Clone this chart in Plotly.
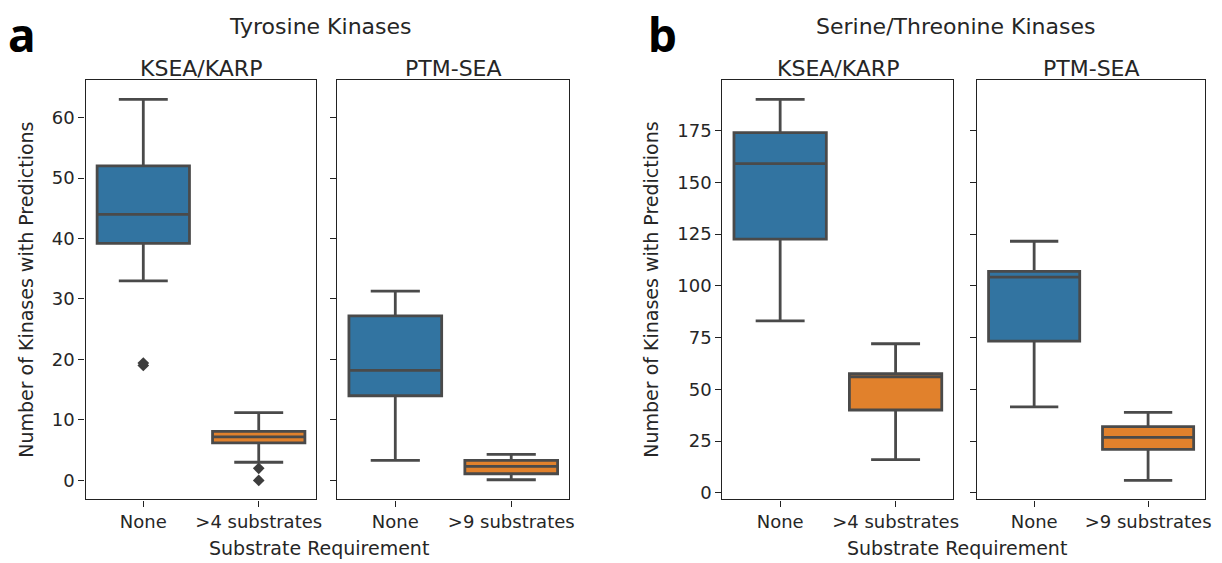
import plotly.graph_objects as go

W, H = 1222, 563

# ---------------- data ----------------
cats_tyr_ksea = ["None", ">4 substrates"]
cats_tyr_ptm = ["None", ">9 substrates"]
cats_st_ksea = ["None", ">4 substrates"]
cats_st_ptm = ["None", ">9 substrates"]

# box stats: lower whisker, q1, median, q3, upper whisker
tyr_ksea_low = [33, 3]
tyr_ksea_q1 = [39.2, 6.2]
tyr_ksea_med = [44, 7.2]
tyr_ksea_q3 = [52, 8.1]
tyr_ksea_high = [63, 11.2]
tyr_ksea_out_x = ["None", "None", ">4 substrates", ">4 substrates"]
tyr_ksea_out_y = [19, 19.4, 2, 0]

tyr_ptm_low = [3.3, 0.1]
tyr_ptm_q1 = [14, 1.1]
tyr_ptm_med = [18.2, 2.3]
tyr_ptm_q3 = [27.2, 3.3]
tyr_ptm_high = [31.3, 4.3]

st_ksea_low = [83, 16]
st_ksea_q1 = [122.5, 40]
st_ksea_med = [159, 56]
st_ksea_q3 = [174, 57.5]
st_ksea_high = [190, 72]

st_ptm_low = [41.5, 6]
st_ptm_q1 = [73.3, 21]
st_ptm_med = [104.2, 26.8]
st_ptm_q3 = [107, 32]
st_ptm_high = [121.5, 38.8]

tyr_ticks = [0, 10, 20, 30, 40, 50, 60]
st_ticks = [0, 25, 50, 75, 100, 125, 150, 175]

colors = ["#3274a1", "#e1812c"]
line_gray = "#4a4a4a"

# ---------------- layout geometry (pixels) ----------------
x_domains = [(86, 318), (339, 572), (726, 958), (982, 1211)]
y_top, y_bot = 81, 503


def px2x(p):
    return p / W


def px2y(p):
    return 1 - p / H


fig = go.Figure()

panels = [
    (cats_tyr_ksea, tyr_ksea_low, tyr_ksea_q1, tyr_ksea_med, tyr_ksea_q3, tyr_ksea_high),
    (cats_tyr_ptm, tyr_ptm_low, tyr_ptm_q1, tyr_ptm_med, tyr_ptm_q3, tyr_ptm_high),
    (cats_st_ksea, st_ksea_low, st_ksea_q1, st_ksea_med, st_ksea_q3, st_ksea_high),
    (cats_st_ptm, st_ptm_low, st_ptm_q1, st_ptm_med, st_ptm_q3, st_ptm_high),
]

for i, (cats, lo, q1, med, q3, hi) in enumerate(panels):
    ax = "" if i == 0 else str(i + 1)
    for j in range(2):
        fig.add_trace(go.Box(
            x=[cats[j]], q1=[q1[j]], median=[med[j]], q3=[q3[j]],
            lowerfence=[lo[j]], upperfence=[hi[j]],
            fillcolor=colors[j], line=dict(color=line_gray, width=2.8),
            width=0.8, whiskerwidth=0.53, boxpoints=False,
            xaxis="x" + ax, yaxis="y" + ax, showlegend=False, hoverinfo="skip",
        ))

fig.add_trace(go.Scatter(
    x=tyr_ksea_out_x, y=tyr_ksea_out_y, mode="markers",
    marker=dict(symbol="diamond", size=9, color="#3d3d3d"),
    xaxis="x", yaxis="y", showlegend=False, hoverinfo="skip",
))


def yrange(lows, highs, extra=()):
    mn = min(list(lows) + list(extra))
    mx = max(highs)
    pad = (mx - mn) * 0.05
    return [mn - pad, mx + pad]


ranges = [
    yrange(tyr_ksea_low + tyr_ptm_low, tyr_ksea_high + tyr_ptm_high, tyr_ksea_out_y),
    yrange(st_ksea_low + st_ptm_low, st_ksea_high + st_ptm_high),
]

axis_common = dict(
    showline=True, linecolor="#222", linewidth=1.4, mirror=True,
    ticks="outside", ticklen=6, tickwidth=1.4, tickcolor="#222",
    showgrid=False, zeroline=False,
    tickfont=dict(family="DejaVu Sans", size=18, color="#262626"),
)

layout = dict(
    width=W, height=H, margin=dict(l=0, r=0, t=0, b=0),
    plot_bgcolor="white", paper_bgcolor="white", showlegend=False,
)

for i, (cats, *_r) in enumerate(panels):
    k = "" if i == 0 else str(i + 1)
    x0, x1 = x_domains[i]
    layout["xaxis" + k] = dict(
        axis_common, domain=[px2x(x0), px2x(x1)], anchor="y" + k,
        type="category", categoryarray=cats, categoryorder="array",
        range=[-0.5, 1.5], fixedrange=True,
    )
    grp = 0 if i < 2 else 1
    ticks = tyr_ticks if grp == 0 else st_ticks
    layout["yaxis" + k] = dict(
        axis_common, domain=[px2y(y_bot), px2y(y_top)], anchor="x" + k,
        range=ranges[grp], tickvals=ticks, ticktext=[str(t) for t in ticks],
        showticklabels=(i % 2 == 0), fixedrange=True,
    )

fig.update_layout(**layout)

ann = []
txt_font = dict(family="DejaVu Sans", color="#262626")
# subplot titles
for i, t in enumerate(["KSEA/KARP", "PTM-SEA", "KSEA/KARP", "PTM-SEA"]):
    x0, x1 = x_domains[i]
    ann.append(dict(text=t, x=px2x((x0 + x1) / 2), y=px2y(69), xref="paper", yref="paper",
                    showarrow=False, font=dict(txt_font, size=22), xanchor="center", yanchor="middle"))
# suptitles
ann.append(dict(text="Tyrosine Kinases", x=px2x(322), y=px2y(27), xref="paper", yref="paper",
                showarrow=False, font=dict(txt_font, size=22), xanchor="center", yanchor="middle"))
ann.append(dict(text="Serine/Threonine Kinases", x=px2x(960), y=px2y(27), xref="paper", yref="paper",
                showarrow=False, font=dict(txt_font, size=22), xanchor="center", yanchor="middle"))
# x titles
ann.append(dict(text="Substrate Requirement", x=px2x(321), y=px2y(552), xref="paper", yref="paper",
                showarrow=False, font=dict(txt_font, size=19), xanchor="center", yanchor="middle"))
ann.append(dict(text="Substrate Requirement", x=px2x(962), y=px2y(552), xref="paper", yref="paper",
                showarrow=False, font=dict(txt_font, size=19), xanchor="center", yanchor="middle"))
# y titles
ann.append(dict(text="Number of Kinases with Predictions", x=px2x(26), y=px2y(292), xref="paper", yref="paper",
                showarrow=False, textangle=-90, font=dict(txt_font, size=19), xanchor="center", yanchor="middle"))
ann.append(dict(text="Number of Kinases with Predictions", x=px2x(654), y=px2y(292), xref="paper", yref="paper",
                showarrow=False, textangle=-90, font=dict(txt_font, size=19), xanchor="center", yanchor="middle"))
# panel letters
ann.append(dict(text="<b>a</b>", x=px2x(22), y=px2y(34), xref="paper", yref="paper",
                showarrow=False, font=dict(family="Noto Sans", size=46, color="black"), xanchor="center", yanchor="middle"))
ann.append(dict(text="<b>b</b>", x=px2x(666), y=px2y(34), xref="paper", yref="paper",
                showarrow=False, font=dict(family="Noto Sans", size=46, color="black"), xanchor="center", yanchor="middle"))

fig.update_layout(annotations=ann)
fig.write_html("out.html")
